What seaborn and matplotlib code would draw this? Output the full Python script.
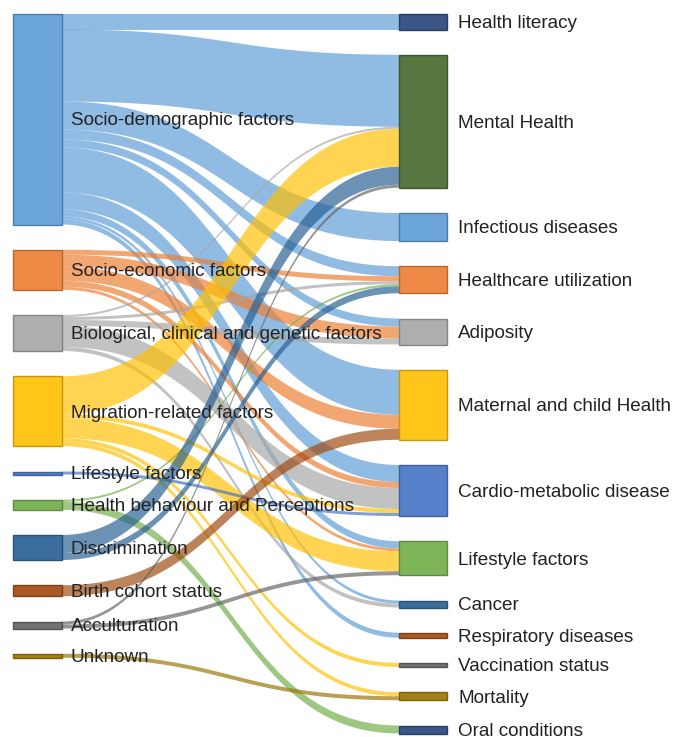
import numpy as np
import matplotlib
matplotlib.use("Agg")
import matplotlib.pyplot as plt
import matplotlib.colors as mcolors
from matplotlib.patches import Rectangle, Polygon
import seaborn as sns

# ---------------- data ----------------
left_nodes = ["Socio-demographic factors", "Socio-economic factors",
              "Biological, clinical and genetic factors", "Migration-related factors",
              "Lifestyle factors", "Health behaviour and Perceptions", "Discrimination",
              "Birth cohort status", "Acculturation", "Unknown"]
right_nodes = ["Health literacy", "Mental Health", "Infectious diseases",
               "Healthcare utilization", "Adiposity", "Maternal and child Health",
               "Cardio-metabolic disease", "Lifestyle factors", "Cancer",
               "Respiratory diseases", "Vaccination status", "Mortality", "Oral conditions"]

# links: source index (left), target index (right), weight
link_source = [0, 0, 0, 0, 0, 0, 0, 0, 0, 0,
               1, 1, 1, 1, 1,
               2, 2, 2, 2, 2,
               3, 3, 3, 3, 3,
               4,
               5, 5,
               6, 6,
               7,
               8, 8,
               9]
link_target = [0, 1, 2, 3, 4, 5, 6, 7, 8, 9,
               3, 4, 5, 6, 7,
               1, 3, 4, 6, 8,
               1, 6, 7, 10, 11,
               6,
               3, 12,
               1, 3,
               5,
               1, 7,
               11]
link_value = [16, 72, 28, 10, 8, 45, 17, 7, 3, 5,
              5, 12, 14, 6, 3,
              2, 3, 6, 21, 4,
              38, 4, 20, 4, 4,
              3,
              2, 8,
              18, 7,
              11,
              3, 4,
              4]

palette = ["#5B9BD5", "#ED7D31", "#A5A5A5", "#FFC000", "#4472C4", "#70AD47",
           "#255E91", "#9E480E", "#636363", "#997300", "#264478", "#43682B"]

# ---------------- style ----------------
sns.set_style("white")
plt.rcParams['font.family'] = ['Liberation Sans', 'DejaVu Sans']

fig = plt.figure(figsize=(6.77, 7.37), dpi=100)
ax = fig.add_axes([0, 0, 1, 1])
ax.set_xlim(0, 677)
ax.set_ylim(737, 0)
ax.axis('off')

nL, nR = len(left_nodes), len(right_nodes)
left_colors = [palette[i % 12] for i in range(nL)]
right_colors = [palette[(nL + i) % 12] for i in range(nR)]

left_tot = np.zeros(nL)
right_tot = np.zeros(nR)
for s, t, v in zip(link_source, link_target, link_value):
    left_tot[s] += v
    right_tot[t] += v

top, bottom = 13.5, 733.5
pad = (bottom - top - right_tot.sum()) / (nR - 1)
scale = 1.0

def stack(tot):
    ys, y = [], top
    for h in tot:
        ys.append(y)
        y += h * scale + pad
    return np.array(ys)

left_y = stack(left_tot)
right_y = stack(right_tot)

Lx0, Lx1 = 13, 62
Rx0, Rx1 = 399, 447

# offsets at source (sorted by target), at target (sorted by source)
idx = np.arange(len(link_value))
src_off, tgt_off = {}, {}
for s in range(nL):
    y = left_y[s]
    for i in sorted([i for i in idx if link_source[i] == s], key=lambda i: link_target[i]):
        src_off[i] = y
        y += link_value[i] * scale
for t in range(nR):
    y = right_y[t]
    for i in sorted([i for i in idx if link_target[i] == t], key=lambda i: link_source[i]):
        tgt_off[i] = y
        y += link_value[i] * scale

tt = np.linspace(0, 1, 80)
def bez(p0, p1, p2, p3):
    return ((1 - tt) ** 3) * p0 + 3 * ((1 - tt) ** 2) * tt * p1 + 3 * (1 - tt) * tt ** 2 * p2 + tt ** 3 * p3

xm = (Lx1 + Rx0) / 2
xs = bez(Lx1, xm, xm, Rx0)
for i in idx:
    w = link_value[i] * scale
    y0, y1 = src_off[i], tgt_off[i]
    ytop = bez(y0, y0, y1, y1)
    ybot = ytop + w
    pts = np.concatenate([np.column_stack([xs, ytop]), np.column_stack([xs[::-1], ybot[::-1]])])
    ax.add_patch(Polygon(pts, closed=True, facecolor=left_colors[link_source[i]],
                         alpha=0.68, edgecolor='none', zorder=1))

def darker(c, f=0.75):
    r, g, b = mcolors.to_rgb(c)
    return (r * f, g * f, b * f)

fs = 13.6
dy = 1.8
for i in range(nL):
    h = max(left_tot[i] * scale, 2)
    ax.add_patch(Rectangle((Lx0, left_y[i]), Lx1 - Lx0, h, facecolor=left_colors[i],
                           edgecolor=darker(left_colors[i]), lw=1, alpha=0.9, zorder=2))
    ax.text(71, left_y[i] + h / 2 + dy, left_nodes[i], va='center', ha='left',
            fontsize=fs, color='#222222', zorder=3)
for i in range(nR):
    h = max(right_tot[i] * scale, 2)
    ax.add_patch(Rectangle((Rx0, right_y[i]), Rx1 - Rx0, h, facecolor=right_colors[i],
                           edgecolor=darker(right_colors[i]), lw=1, alpha=0.9, zorder=2))
    ax.text(458, right_y[i] + h / 2 + dy, right_nodes[i], va='center', ha='left',
            fontsize=fs, color='#222222', zorder=3)

fig.savefig("out.png", dpi=100, facecolor='white')
